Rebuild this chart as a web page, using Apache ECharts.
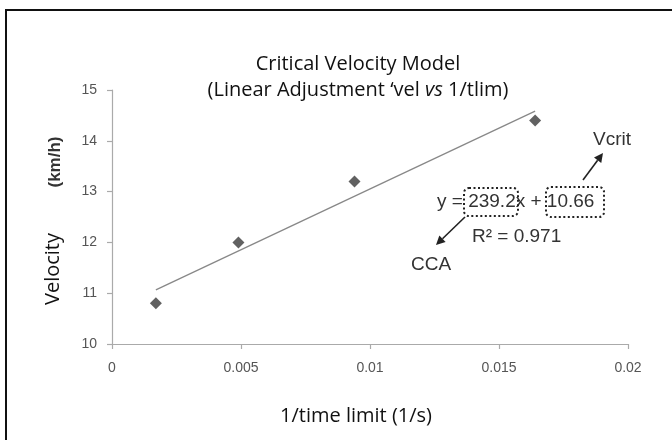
<!DOCTYPE html>
<html>
<head>
<meta charset="utf-8">
<script src="https://cdn.jsdelivr.net/npm/echarts@6/dist/echarts.min.js"></script>
<style>
  html, body { margin: 0; padding: 0; background: #fff; }
  #main { width: 672px; height: 440px; }
</style>
</head>
<body>
<div id="main"></div>
<script>
var chartDom = document.getElementById('main');
var myChart = echarts.init(chartDom, null, { renderer: 'canvas' });

// measured points (1/tlim, velocity)
var invTime = [0.0017, 0.0049, 0.0094, 0.0164];
var velocity = [10.8, 12.0, 13.2, 14.4];
// linear fit y = slope*x + intercept
var slope = 239.2;
var intercept = 10.66;
var xTicks = [0, 0.005, 0.01, 0.015, 0.02];
var yTicks = [10, 11, 12, 13, 14, 15];

var points = invTime.map((x, i) => [x, velocity[i]]);
var fitLine = [invTime[0], invTime[invTime.length - 1]].map(x => [x, slope * x + intercept]);

function arrow(x1, y1, x2, y2) {
  let a = Math.atan2(y2 - y1, x2 - x1);
  let len = 9, w = 4.5;
  let bx = x2 - len * Math.cos(a), by = y2 - len * Math.sin(a);
  return [
    {
      type: 'line',
      shape: { x1: x1, y1: y1, x2: bx, y2: by },
      style: { stroke: '#222', lineWidth: 1.6 },
    },
    {
      type: 'polygon',
      shape: {
        points: [
          [x2, y2],
          [bx + w * Math.sin(a), by - w * Math.cos(a)],
          [bx - w * Math.sin(a), by + w * Math.cos(a)],
        ],
      },
      style: { fill: '#222' },
    },
  ];
}

var annFont = { fontFamily: 'Liberation Sans', fontSize: 19, fill: '#333' };

var graphics = [
  {
    type: 'polyline',
    shape: { points: [[6, 440], [6, 10], [672, 10]] },
    style: { stroke: '#111', lineWidth: 2, fill: null },
  },
  {
    type: 'text', x: 53, y: 269, rotation: Math.PI / 2,
    style: { text: 'Velocity', fontFamily: 'Open Sans', fontSize: 20, fill: '#111', align: 'center', verticalAlign: 'middle' },
  },
  {
    type: 'text', x: 55, y: 162, rotation: Math.PI / 2,
    style: { text: '(km/h)', fontFamily: 'Liberation Sans', fontWeight: 'bold', fontSize: 17, fill: '#333', align: 'center', verticalAlign: 'middle' },
  },
  {
    type: 'text', x: 437, y: 202,
    style: Object.assign({ text: 'y = 239.2x + 10.66', verticalAlign: 'middle' }, annFont),
  },
  {
    type: 'text', x: 472, y: 237,
    style: Object.assign({ text: 'R² = 0.971', verticalAlign: 'middle' }, annFont),
  },
  {
    type: 'text', x: 431, y: 265,
    style: Object.assign({ text: 'CCA', align: 'center', verticalAlign: 'middle' }, annFont),
  },
  {
    type: 'text', x: 612, y: 140,
    style: Object.assign({ text: 'Vcrit', align: 'center', verticalAlign: 'middle' }, annFont),
  },
  {
    type: 'rect', shape: { x: 464, y: 188, width: 54, height: 28, r: 5 },
    style: { fill: null, stroke: '#222', lineWidth: 2, lineDash: [2, 2.5] },
  },
  {
    type: 'rect', shape: { x: 546, y: 187, width: 58, height: 30, r: 5 },
    style: { fill: null, stroke: '#222', lineWidth: 2, lineDash: [2, 2.5] },
  },
].concat(arrow(465, 217, 436, 245), arrow(583, 180, 603, 153));

var option = {
  animation: false,
  title: {
    text: 'Critical Velocity Model\n(Linear Adjustment ‘vel {i|vs} 1/tlim)',
    left: 353,
    top: 46,
    textAlign: 'center',
    textStyle: {
      fontFamily: 'Open Sans',
      fontSize: 20,
      fontWeight: 'normal',
      color: '#111',
      lineHeight: 26,
      rich: { i: { fontFamily: 'Open Sans', fontSize: 20, fontStyle: 'italic', color: '#111', lineHeight: 26 } },
    },
  },
  grid: { left: 112, right: 44, top: 90, bottom: 96 },
  xAxis: {
    type: 'value',
    min: 0,
    max: 0.02,
    interval: 0.005,
    name: '1/time limit (1/s)',
    nameLocation: 'middle',
    nameGap: 62,
    nameTextStyle: { fontFamily: 'Open Sans', fontSize: 20, color: '#111', padding: [0, 28, 0, 0] },
    axisLine: { onZero: false, lineStyle: { color: '#aaa', width: 1.2 } },
    axisTick: { show: true, length: 5, lineStyle: { color: '#aaa', width: 1.2 } },
    axisLabel: { color: '#555', fontFamily: 'Liberation Sans', fontSize: 14, margin: 17 },
    splitLine: { show: false },
  },
  yAxis: {
    type: 'value',
    min: 10,
    max: 15,
    interval: 1,
    axisLine: { show: true, lineStyle: { color: '#aaa', width: 1.2 } },
    axisTick: { show: true, length: 5, lineStyle: { color: '#aaa', width: 1.2 } },
    axisLabel: { color: '#555', fontFamily: 'Liberation Sans', fontSize: 14, margin: 15 },
    splitLine: { show: false },
  },
  series: [
    {
      type: 'line',
      data: fitLine,
      symbol: 'none',
      lineStyle: { color: '#888', width: 1.3 },
      silent: true,
    },
    {
      type: 'scatter',
      data: points,
      symbol: 'diamond',
      symbolSize: 12,
      itemStyle: { color: '#3a3a3a' },
    },
  ],
  graphic: graphics,
};

myChart.setOption(option);
</script>
</body>
</html>
